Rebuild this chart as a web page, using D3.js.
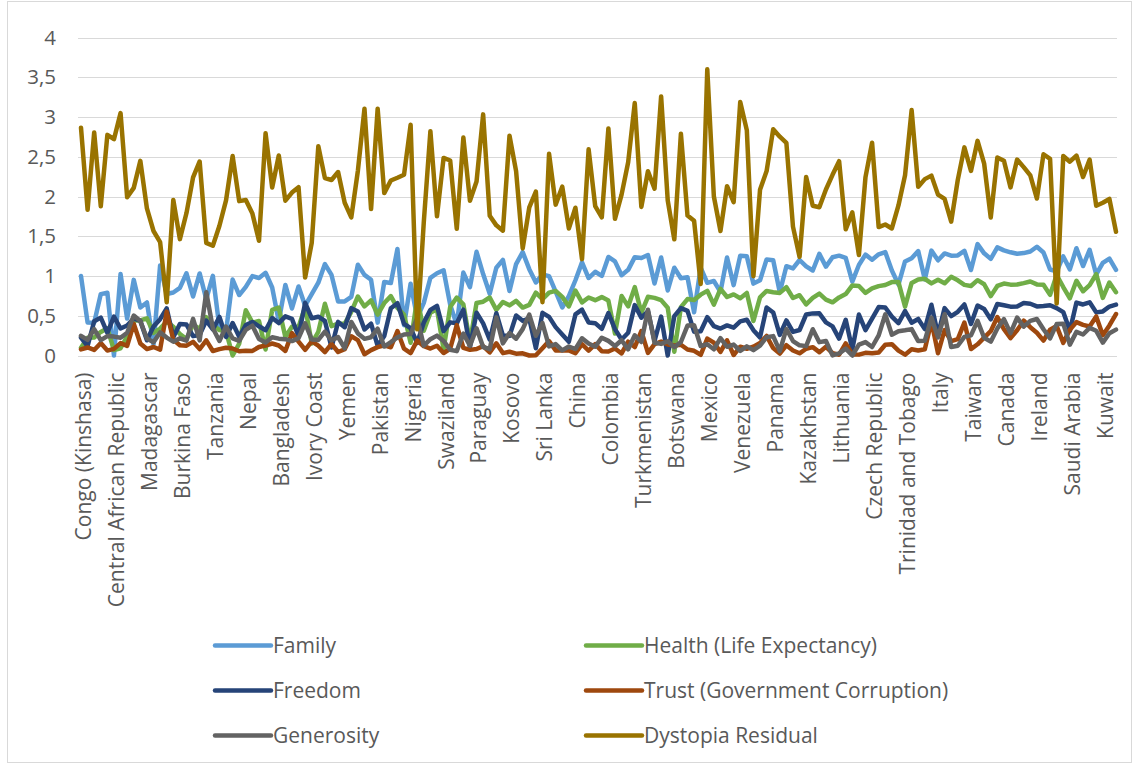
<!DOCTYPE html>
<html>
<head>
<meta charset="utf-8">
<script src="https://cdn.jsdelivr.net/npm/d3@7"></script>
<style>
  html, body { margin: 0; padding: 0; background: #fff; }
  svg { display: block; }
  text { font-family: "Open Sans", "DejaVu Sans", sans-serif; fill: #595959; }
</style>
</head>
<body>
<svg id="chart" width="1139" height="764"></svg>
<script>
// Countries ordered by GDP per capita (ascending), 2015 happiness factors
const countries = ["Congo (Kinshasa)","Burundi","Malawi","Niger","Liberia","Central African Republic","Mozambique","Guinea","Somaliland region","Ethiopia",
"Madagascar","Togo","Uganda","Rwanda","Comoros","Burkina Faso","Mali","Haiti","Zimbabwe","Myanmar",
"Tanzania","Benin","Afghanistan","Sierra Leone","Chad","Nepal","Kenya","Senegal","Lesotho","Tajikistan",
"Bangladesh","Cameroon","Djibouti","Mauritania","Cambodia","Ivory Coast","Zambia","Kyrgyzstan","Sudan","Ghana",
"Yemen","Laos","Nicaragua","Moldova","Honduras","Pakistan","Palestinian Territories","Vietnam","Uzbekistan","India",
"Nigeria","Syria","Congo (Brazzaville)","Bolivia","Philippines","Swaziland","Morocco","Georgia","Guatemala","Angola",
"Paraguay","El Salvador","Armenia","Bhutan","Ukraine","Kosovo","Jamaica","Mongolia","Indonesia","Bosnia and Herzegovina",
"Sri Lanka","Ecuador","Albania","Tunisia","Egypt","China","Dominican Republic","Peru","Jordan","Macedonia",
"Colombia","South Africa","Serbia","Algeria","Costa Rica","Turkmenistan","Thailand","Montenegro","Brazil","Iraq",
"Botswana","Suriname","Mauritius","Iran","Bulgaria","Mexico","Azerbaijan","Lebanon","Belarus","Romania",
"Venezuela","Argentina","Gabon","Turkey","Uruguay","Panama","Croatia","Chile","Latvia","Hungary",
"Kazakhstan","Malaysia","Poland","Libya","Russia","Lithuania","Estonia","Greece","Portugal","Slovakia",
"Czech Republic","Slovenia","Malta","North Cyprus","Cyprus","Trinidad and Tobago","Israel","Spain","South Korea","New Zealand",
"Italy","United Kingdom","Japan","France","Finland","Taiwan","Iceland","Belgium","Bahrain","Denmark",
"Canada","Germany","Netherlands","Sweden","Australia","Ireland","Austria","Oman","Hong Kong","United States",
"Saudi Arabia","Switzerland","United Arab Emirates","Norway","Singapore","Kuwait","Luxembourg","Qatar"];

const family = [1.001,0.416,0.411,0.773,0.790,0.000,1.026,0.465,0.952,0.604,
0.668,0.140,1.133,0.774,0.793,0.852,1.035,0.743,1.033,0.709,
1.003,0.354,0.303,0.956,0.761,0.864,0.999,0.976,1.041,0.856,
0.431,0.888,0.592,0.869,0.627,0.771,0.916,1.151,1.014,0.680,
0.681,0.738,1.142,1.015,0.953,0.414,0.926,0.912,1.340,0.382,
0.904,0.475,0.663,0.978,1.035,1.073,0.641,0.386,1.044,0.860,
1.305,1.025,0.777,1.104,1.203,0.812,1.151,1.301,1.087,0.919,
1.019,0.999,0.804,0.604,0.747,0.947,1.172,0.975,1.054,1.002,
1.240,1.185,1.010,1.078,1.238,1.227,1.265,0.906,1.233,0.819,
1.105,0.972,0.985,0.544,1.106,0.915,0.938,0.800,1.233,0.886,
1.256,1.248,0.905,0.946,1.209,1.199,0.796,1.124,1.096,1.202,
1.122,1.070,1.279,1.119,1.236,1.257,1.228,0.929,1.139,1.270,
1.206,1.274,1.302,1.070,0.893,1.184,1.224,1.314,0.958,1.320,
1.198,1.285,1.257,1.260,1.318,1.076,1.402,1.286,1.216,1.361,
1.323,1.299,1.280,1.289,1.309,1.369,1.297,1.082,1.058,1.247,
1.084,1.350,1.126,1.331,1.020,1.166,1.220,1.079];

const health = [0.098,0.224,0.226,0.297,0.342,0.067,0.091,0.240,0.439,0.441,
0.467,0.284,0.339,0.429,0.363,0.271,0.206,0.388,0.335,0.482,
0.382,0.319,0.303,0.000,0.150,0.569,0.414,0.435,0.076,0.574,
0.602,0.234,0.363,0.359,0.611,0.152,0.299,0.651,0.369,0.401,
0.401,0.549,0.743,0.618,0.695,0.515,0.660,0.747,0.598,0.515,
0.160,0.722,0.311,0.539,0.581,0.076,0.610,0.729,0.644,0.167,
0.661,0.677,0.730,0.574,0.674,0.631,0.687,0.603,0.638,0.791,
0.708,0.791,0.813,0.738,0.617,0.817,0.668,0.730,0.696,0.735,
0.691,0.277,0.748,0.618,0.860,0.539,0.739,0.725,0.697,0.602,
0.048,0.608,0.710,0.698,0.766,0.814,0.640,0.839,0.736,0.769,
0.721,0.787,0.434,0.732,0.812,0.797,0.788,0.859,0.724,0.759,
0.644,0.724,0.779,0.704,0.669,0.731,0.774,0.882,0.875,0.789,
0.845,0.873,0.887,0.924,0.924,0.615,0.914,0.956,0.965,0.908,
0.954,0.909,0.991,0.946,0.889,0.875,0.948,0.897,0.747,0.875,
0.906,0.892,0.893,0.911,0.932,0.895,0.890,0.763,1.013,0.862,
0.720,0.941,0.809,0.885,1.025,0.725,0.919,0.797];

const freedom = [0.226,0.119,0.431,0.477,0.285,0.489,0.340,0.377,0.466,0.435,
0.192,0.365,0.457,0.592,0.229,0.395,0.389,0.244,0.259,0.440,
0.329,0.485,0.234,0.408,0.235,0.383,0.422,0.368,0.318,0.472,
0.408,0.493,0.461,0.242,0.662,0.469,0.488,0.435,0.101,0.423,
0.356,0.596,0.555,0.328,0.401,0.121,0.245,0.594,0.658,0.398,
0.343,0.157,0.415,0.574,0.625,0.307,0.417,0.406,0.577,0.104,
0.539,0.404,0.198,0.532,0.251,0.247,0.504,0.436,0.466,0.092,
0.537,0.486,0.357,0.263,0.173,0.517,0.577,0.415,0.407,0.335,
0.535,0.332,0.201,0.286,0.634,0.476,0.557,0.183,0.490,0.000,
0.495,0.597,0.561,0.300,0.306,0.482,0.370,0.339,0.379,0.351,
0.429,0.450,0.319,0.228,0.604,0.542,0.259,0.441,0.297,0.321,
0.516,0.530,0.531,0.417,0.367,0.213,0.449,0.077,0.515,0.318,
0.464,0.609,0.604,0.490,0.407,0.559,0.413,0.460,0.332,0.639,
0.262,0.596,0.496,0.550,0.642,0.397,0.629,0.585,0.455,0.649,
0.633,0.615,0.616,0.660,0.651,0.618,0.624,0.633,0.596,0.546,
0.310,0.666,0.642,0.670,0.543,0.555,0.616,0.640];

const trust = [0.076,0.101,0.070,0.156,0.062,0.083,0.156,0.121,0.399,0.150,
0.081,0.107,0.073,0.552,0.199,0.128,0.124,0.172,0.081,0.190,
0.057,0.080,0.097,0.088,0.053,0.059,0.058,0.107,0.125,0.151,
0.126,0.058,0.281,0.175,0.072,0.179,0.125,0.042,0.147,0.044,
0.079,0.242,0.193,0.016,0.068,0.105,0.129,0.104,0.308,0.085,
0.030,0.189,0.117,0.088,0.123,0.031,0.085,0.383,0.095,0.071,
0.082,0.118,0.039,0.154,0.030,0.047,0.023,0.027,0.000,0.002,
0.092,0.181,0.064,0.064,0.063,0.028,0.142,0.060,0.143,0.053,
0.051,0.089,0.026,0.174,0.106,0.308,0.032,0.143,0.175,0.138,
0.125,0.136,0.075,0.059,0.009,0.213,0.161,0.046,0.191,0.006,
0.111,0.085,0.111,0.157,0.246,0.093,0.024,0.129,0.063,0.028,
0.085,0.105,0.042,0.110,0.030,0.010,0.152,0.014,0.011,0.034,
0.027,0.038,0.136,0.143,0.061,0.011,0.078,0.064,0.079,0.429,
0.029,0.321,0.181,0.206,0.414,0.081,0.141,0.225,0.306,0.484,
0.330,0.218,0.318,0.438,0.356,0.287,0.187,0.325,0.371,0.159,
0.325,0.420,0.386,0.365,0.492,0.256,0.378,0.522];

const generosity = [0.248,0.197,0.331,0.194,0.244,0.238,0.223,0.287,0.503,0.435,
0.213,0.167,0.291,0.226,0.174,0.217,0.188,0.462,0.190,0.796,
0.344,0.183,0.365,0.215,0.184,0.323,0.375,0.208,0.164,0.230,
0.212,0.206,0.181,0.219,0.404,0.202,0.196,0.300,0.191,0.231,
0.091,0.422,0.278,0.210,0.230,0.337,0.113,0.169,0.228,0.265,
0.272,0.472,0.124,0.205,0.250,0.183,0.072,0.055,0.275,0.123,
0.342,0.107,0.079,0.480,0.153,0.283,0.211,0.332,0.515,0.248,
0.408,0.115,0.143,0.064,0.113,0.082,0.217,0.150,0.111,0.224,
0.184,0.120,0.192,0.078,0.255,0.170,0.576,0.161,0.146,0.179,
0.105,0.170,0.377,0.381,0.119,0.141,0.078,0.219,0.110,0.137,
0.058,0.115,0.068,0.123,0.230,0.244,0.054,0.334,0.182,0.128,
0.118,0.331,0.168,0.183,0.002,0.026,0.087,0.000,0.137,0.169,
0.107,0.253,0.518,0.262,0.306,0.318,0.332,0.182,0.186,0.475,
0.228,0.519,0.107,0.123,0.234,0.254,0.436,0.223,0.174,0.341,
0.458,0.282,0.476,0.363,0.436,0.459,0.331,0.215,0.395,0.401,
0.137,0.297,0.264,0.347,0.311,0.162,0.280,0.326];

const dystopia = [2.867,1.833,2.808,1.879,2.777,2.722,3.051,1.992,2.110,2.450,
1.851,1.567,1.428,0.670,1.958,1.465,1.793,2.242,2.442,1.418,
1.381,1.633,1.952,2.510,1.943,1.956,1.786,1.444,2.798,2.114,
2.518,1.949,2.051,2.118,0.982,1.417,2.634,2.233,2.209,2.309,
1.923,1.738,2.324,3.107,1.844,3.107,2.044,2.202,2.237,2.275,
2.904,0.329,1.681,2.823,1.752,2.487,2.454,1.595,2.743,1.949,
2.189,3.035,1.759,1.638,1.571,2.766,2.320,1.348,1.864,2.064,
0.671,2.539,1.899,2.125,1.599,1.860,1.213,2.595,1.880,1.739,
2.857,1.720,2.025,2.432,3.177,1.870,2.319,2.100,3.260,1.953,
1.462,2.791,1.761,1.695,0.900,3.602,2.001,1.567,2.131,1.931,
3.191,2.836,0.999,2.085,2.321,2.848,2.754,2.676,1.622,1.241,
2.247,1.885,1.866,2.090,2.274,2.446,1.588,1.801,1.265,2.246,
2.678,1.616,1.649,1.599,1.889,2.269,3.089,2.124,2.220,2.264,
2.025,1.970,1.684,2.211,2.620,2.323,2.702,2.415,1.738,2.492,
2.452,2.116,2.466,2.371,2.266,1.976,2.533,2.475,0.654,2.510,
2.439,2.517,2.247,2.465,1.885,1.922,1.970,1.557];

const seriesNames = ["Family","Health (Life Expectancy)","Freedom","Trust (Government Corruption)","Generosity","Dystopia Residual"];
const seriesValues = [family, health, freedom, trust, generosity, dystopia];
const seriesColors = ["#5B9BD5","#70AD47","#264478","#9E480E","#636363","#997300"];

const yTicks = [0, 0.5, 1, 1.5, 2, 2.5, 3, 3.5, 4];
const labelEvery = 5;

const svg = d3.select("#chart");
const W = 1139, H = 764;

svg.append("rect").attr("x", 0).attr("y", 0).attr("width", W).attr("height", H).attr("fill", "#fff");
svg.append("rect").attr("x", 7.5).attr("y", 1.5).attr("width", W - 15).attr("height", H - 3)
  .attr("fill", "none").attr("stroke", "#d9d9d9").attr("stroke-width", 1);

const plot = { left: 78, right: 1117, top: 37.7, bottom: 355.5 };

const x = d3.scalePoint().domain(countries).range([81, 1116]);
const y = d3.scaleLinear().domain([0, 4]).range([plot.bottom, plot.top]);

const fmt = d3.formatLocale({ decimal: ",", thousands: ".", grouping: [3], currency: ["", ""] }).format("~g");

// horizontal gridlines
svg.append("g")
  .selectAll("line")
  .data(yTicks)
  .join("line")
  .attr("x1", plot.left).attr("x2", plot.right)
  .attr("y1", d => Math.round(y(d)) + 0.5).attr("y2", d => Math.round(y(d)) + 0.5)
  .attr("stroke", "#d9d9d9").attr("stroke-width", 1.2);

// value axis labels
const yAxis = d3.axisLeft(y).tickValues(yTicks).tickSize(0).tickPadding(0).tickFormat(d => fmt(d));
const gy = svg.append("g").attr("transform", `translate(56,0)`).call(yAxis);
gy.select(".domain").remove();
gy.selectAll("text").attr("font-size", 20.5).attr("font-family", "\"Open Sans\", sans-serif").attr("fill", "#595959");

// category axis labels (every fifth country)
const xAxis = d3.axisBottom(x)
  .tickValues(countries.filter((c, i) => i % labelEvery === 0))
  .tickSize(0).tickPadding(0);
const gx = svg.append("g").attr("transform", `translate(0,${plot.bottom})`).call(xAxis);
gx.select(".domain").remove();
gx.selectAll("text")
  .attr("font-size", 21)
  .attr("font-family", "\"Open Sans\", sans-serif")
  .attr("fill", "#595959")
  .attr("text-anchor", "end")
  .attr("transform", "translate(0,17) rotate(-90)")
  .attr("x", 0).attr("y", 0).attr("dy", "0.45em");

// series lines
const line = d3.line()
  .x((d, i) => x(countries[i]))
  .y(d => y(d));

svg.append("g")
  .selectAll("path")
  .data(seriesValues)
  .join("path")
  .attr("d", d => line(d))
  .attr("fill", "none")
  .attr("stroke", (d, i) => seriesColors[i])
  .attr("stroke-width", 4.5)
  .attr("stroke-linejoin", "round")
  .attr("stroke-linecap", "round");

// legend: two columns, three rows
const legendCols = [215, 586];
const legendRows = [645.5, 690.5, 735.5];
const lg = svg.append("g")
  .selectAll("g")
  .data(seriesNames)
  .join("g")
  .attr("transform", (d, i) => `translate(${legendCols[i % 2]},${legendRows[Math.floor(i / 2)]})`);
lg.append("line")
  .attr("x1", 0).attr("x2", 56).attr("y1", 0).attr("y2", 0)
  .attr("stroke", (d, i) => seriesColors[i])
  .attr("stroke-width", 4.5).attr("stroke-linecap", "round");
lg.append("text")
  .attr("x", 58).attr("y", 0).attr("dy", "0.35em")
  .attr("font-size", 21)
  .text(d => d);
</script>
</body>
</html>
